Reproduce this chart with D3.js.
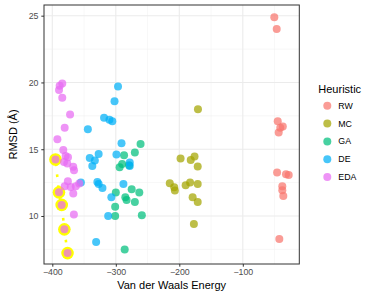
<!DOCTYPE html>
<html><head><meta charset="utf-8">
<script src="https://cdn.jsdelivr.net/npm/d3@7"></script>
<style>body{margin:0;background:#fff} svg{display:block}</style>
</head><body>
<svg id="c" width="374" height="299"></svg>
<script>
const categories = ["RW","MC","GA","DE","EDA"];
const colors = ["#F8766D","#A3A500","#00BF7D","#00B0F6","#E76BF3"];

const rwX = [-50.4,-46.6,-45,-41,-37,-43.5,-46,-32,-27.7,-37.8,-37.8,-36.2,-42.5];
const rwY = [24.88,24.0,17.1,16.6,16.7,16.25,13.25,13.13,13.07,12.22,11.92,11.5,8.27];

const mcX = [-170.6,-198,-182,-176,-171,-215,-208,-207,-190,-183,-171,-179,-171,-177];
const mcY = [18.0,14.3,14.2,14.45,13.7,12.45,12.15,11.9,12.3,12.5,12.4,11.4,11.05,9.4];

const gaX = [-261,-270,-287,-290,-294,-279,-300,-275,-263,-285,-283,-270,-301,-301,-259,-286];
const gaY = [15.4,14.75,14.55,13.9,13.65,13.8,11.75,12.0,11.75,11.4,11.2,11.05,10.7,10.0,10.05,7.5];

const deX = [-296.5,-302,-318.5,-310,-305.5,-344,-291,-341,-337,-333,-327,-299,-278,-278,-355,-329,-327,-321,-288,-307,-312,-331];
const deY = [19.7,18.6,17.35,17.2,17.1,16.5,15.45,14.35,13.75,14.15,14.65,14.6,14.0,13.75,12.5,12.55,12.4,12.1,12.4,11.4,10.0,8.05];

const edaX = [-384.3,-388.4,-389.4,-384.3,-372,-380.5,-392,-382.7,-379,-375.3,-381.6,-376.4,-367,-365.8,-375.5,-380.5,-371,-363,-357.5,-367,-366,-395,-389.5,-385.2,-381,-376];
const edaY = [19.93,19.75,19.43,18.85,17.6,16.6,15.75,14.95,14.5,14.4,14.05,13.93,13.68,13.43,12.6,12.22,12.17,12.22,12.43,11.68,10.12,14.23,11.77,10.83,9.0,7.22];

// highlighted EDA path
const pathX = [-395,-389.5,-385.2,-381,-376];
const pathY = [14.23,11.77,10.83,9.0,7.22];

const xTicks = [-400,-300,-200,-100];
const xMinor = [-350,-250,-150,-50];
const yTicks = [10,15,20,25];
const yMinor = [7.5,12.5,17.5,22.5];

const seriesX = [rwX,mcX,gaX,deX,edaX];
const seriesY = [rwY,mcY,gaY,deY,edaY];

const svg = d3.select("#c");
const P = {l:44, t:5, r:299.3, b:264};
const x = d3.scaleLinear().domain([-413.07,-11.02]).range([P.l,P.r]);
const y = d3.scaleLinear().domain([6.405,25.80]).range([P.b,P.t]);
const font = "'Liberation Sans', Arial, Helvetica, sans-serif";

svg.append("rect").attr("x",P.l).attr("y",P.t).attr("width",P.r-P.l).attr("height",P.b-P.t).attr("fill","#fff");

const g = svg.append("g");
xMinor.forEach(v=>g.append("line").attr("x1",x(v)).attr("x2",x(v)).attr("y1",P.t).attr("y2",P.b).attr("stroke","#F2F2F2").attr("stroke-width",0.6));
yMinor.forEach(v=>g.append("line").attr("y1",y(v)).attr("y2",y(v)).attr("x1",P.l).attr("x2",P.r).attr("stroke","#F2F2F2").attr("stroke-width",0.6));
xTicks.forEach(v=>g.append("line").attr("x1",x(v)).attr("x2",x(v)).attr("y1",P.t).attr("y2",P.b).attr("stroke","#EBEBEB").attr("stroke-width",1.1));
yTicks.forEach(v=>g.append("line").attr("y1",y(v)).attr("y2",y(v)).attr("x1",P.l).attr("x2",P.r).attr("stroke","#EBEBEB").attr("stroke-width",1.1));

const hl = pathX.map((v,i)=>[v,pathY[i]]);
svg.append("path").datum(hl)
  .attr("d", d3.line().x(d=>x(d[0])).y(d=>y(d[1])))
  .attr("fill","none").attr("stroke","#FFFF00").attr("stroke-width",2.6)
  .attr("stroke-dasharray","2.6 8.4").attr("stroke-dashoffset",-4);
svg.append("g").selectAll("circle").data(hl).join("circle")
  .attr("cx",d=>x(d[0])).attr("cy",d=>y(d[1])).attr("r",6.3).attr("fill","#FFFF00");

seriesX.forEach((xs,k)=>{
  const pts = xs.map((v,i)=>[v,seriesY[k][i]]);
  svg.append("g").selectAll("circle").data(pts).join("circle")
    .attr("cx",d=>x(d[0])).attr("cy",d=>y(d[1])).attr("r",4)
    .attr("fill",colors[k]).attr("fill-opacity",0.72);
});

svg.append("rect").attr("x",P.l).attr("y",P.t).attr("width",P.r-P.l).attr("height",P.b-P.t)
  .attr("fill","none").attr("stroke","#333").attr("stroke-width",1);

const fmt = v => (v<0?"\u2212":"")+Math.abs(v);
const xa = svg.append("g").attr("transform",`translate(0,${P.b})`)
  .call(d3.axisBottom(x).tickValues(xTicks).tickFormat(fmt).tickSize(2.7).tickPadding(2.2));
const ya = svg.append("g").attr("transform",`translate(${P.l},0)`)
  .call(d3.axisLeft(y).tickValues(yTicks).tickFormat(d3.format("d")).tickSize(2.7).tickPadding(2.8));
[xa,ya].forEach(a=>{
  a.select(".domain").remove();
  a.selectAll(".tick line").attr("stroke","#333").attr("stroke-width",1);
  a.selectAll(".tick text").attr("fill","#4D4D4D").style("font-family",font).style("font-size","8.8px");
});

svg.append("text").attr("x",(P.l+P.r)/2).attr("y",289).attr("text-anchor","middle")
  .style("font-family",font).style("font-size","11px").attr("fill","#000").text("Van der Waals Energy");
svg.append("text").attr("transform",`translate(16.5,${(P.t+P.b)/2}) rotate(-90)`).attr("text-anchor","middle")
  .style("font-family",font).style("font-size","11px").attr("fill","#000").text("RMSD (Å)");

const lg = svg.append("g");
lg.append("text").attr("x",318.3).attr("y",93).style("font-family",font).style("font-size","11px").attr("fill","#000").text("Heuristic");
categories.forEach((c,i)=>{
  const cy = 105.7 + i*17.85;
  lg.append("circle").attr("cx",327.3).attr("cy",cy).attr("r",4).attr("fill",colors[i]).attr("fill-opacity",0.72);
  lg.append("text").attr("x",338.3).attr("y",cy).attr("dy","0.35em").style("font-family",font).style("font-size","8.8px").attr("fill","#000").text(c);
});
</script>
</body></html>
